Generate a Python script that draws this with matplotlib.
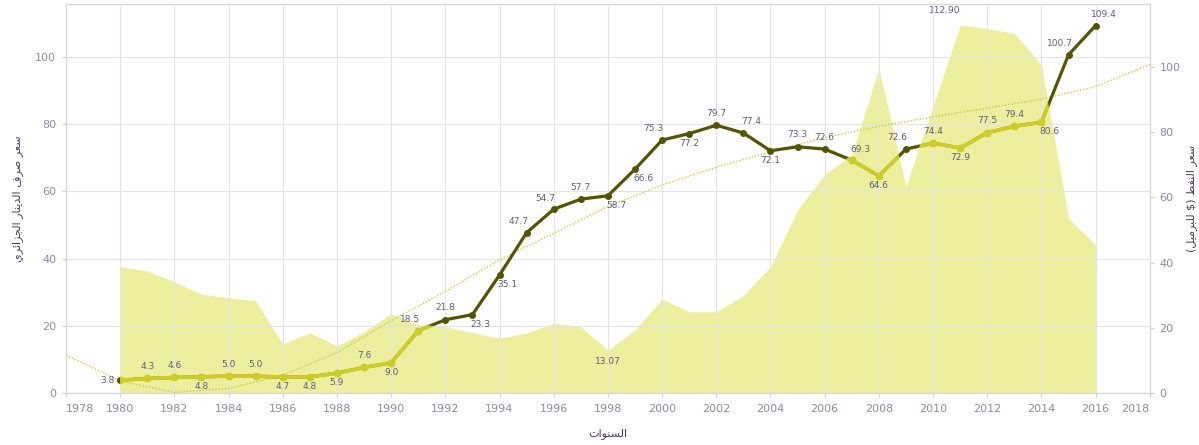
import matplotlib
matplotlib.use("Agg")
import matplotlib.pyplot as plt

# ---- data ----
years = list(range(1980, 2017))

# exchange rate (left axis)
dinar = [3.8, 4.3, 4.6, 4.8, 5.0, 5.0, 4.7, 4.8, 5.9, 7.6,
         9.0, 18.5, 21.8, 23.3, 35.1, 47.7, 54.7, 57.7, 58.7, 66.6,
         75.3, 77.2, 79.7, 77.4, 72.1, 73.3, 72.6, 69.3, 64.6, 72.6,
         74.4, 72.9, 77.5, 79.4, 80.6, 100.7, 109.4]

# oil price (right axis)
oil = [38.7, 37.4, 34.1, 30.3, 29.2, 28.3, 15.0, 18.5, 14.4, 18.8,
       24.4, 20.9, 20.3, 18.5, 16.8, 18.4, 21.4, 20.3, 13.07, 19.3,
       28.8, 24.9, 24.9, 29.9, 38.7, 56.1, 67.0, 73.0, 99.6, 63.3,
       88.0, 112.90, 111.8, 110.3, 100.6, 53.6, 45.4]

# dotted trend of the exchange rate, every two years
trend_years = list(range(1978, 2019, 2))
trend = [11.3, 3.6, 0.2, 1.3, 5.3, 12.0, 21.5, 30.2, 39.6, 47.5, 55.5,
         61.9, 67.2, 71.8, 76.0, 79.4, 82.2, 84.8, 87.5, 91.2, 97.8]

xticks = list(range(1978, 2019, 2))
yticks = [0, 20, 40, 60, 80, 100]

# where each dinar label sits relative to its point
label_pos = ["l", "a", "a", "b", "a", "a", "b", "b", "b", "a",
             "b", "al", "a", "br", "br", "al", "al", "a", "br", "br",
             "al", "b", "a", "ar", "b", "a", "a", "ar", "b", "al",
             "a", "b", "a", "a", "br", "al", "ar"]
offsets = {"a": (0, 8.5), "b": (0, -7), "al": (-6, 8), "ar": (6, 8),
           "br": (6, -7), "l": (-4, 0)}

# arabic shaping (presentation forms: isolated, final, initial, medial)
FORMS = {
    "ا": ("\uFE8D", "\uFE8E", None, None),
    "ب": ("\uFE8F", "\uFE90", "\uFE91", "\uFE92"),
    "ت": ("\uFE95", "\uFE96", "\uFE97", "\uFE98"),
    "ج": ("\uFE9D", "\uFE9E", "\uFE9F", "\uFEA0"),
    "د": ("\uFEA9", "\uFEAA", None, None),
    "ر": ("\uFEAD", "\uFEAE", None, None),
    "ز": ("\uFEAF", "\uFEB0", None, None),
    "س": ("\uFEB1", "\uFEB2", "\uFEB3", "\uFEB4"),
    "ص": ("\uFEB9", "\uFEBA", "\uFEBB", "\uFEBC"),
    "ط": ("\uFEC1", "\uFEC2", "\uFEC3", "\uFEC4"),
    "ع": ("\uFEC9", "\uFECA", "\uFECB", "\uFECC"),
    "ف": ("\uFED1", "\uFED2", "\uFED3", "\uFED4"),
    "ل": ("\uFEDD", "\uFEDE", "\uFEDF", "\uFEE0"),
    "م": ("\uFEE1", "\uFEE2", "\uFEE3", "\uFEE4"),
    "ن": ("\uFEE5", "\uFEE6", "\uFEE7", "\uFEE8"),
    "و": ("\uFEED", "\uFEEE", None, None),
    "ي": ("\uFEF1", "\uFEF2", "\uFEF3", "\uFEF4"),
    "ئ": ("\uFE89", "\uFE8A", "\uFE8B", "\uFE8C"),
}


def ar(s):
    out = []
    for i, ch in enumerate(s):
        if ch not in FORMS:
            out.append(ch)
            continue
        f = FORMS[ch]
        prev = s[i - 1] if i > 0 else ""
        nxt = s[i + 1] if i + 1 < len(s) else ""
        jp = prev in FORMS and FORMS[prev][2] is not None
        jn = nxt in FORMS and f[2] is not None
        if jp and jn:
            out.append(f[3])
        elif jp:
            out.append(f[1])
        elif jn:
            out.append(f[2])
        else:
            out.append(f[0])
    vis = "".join(reversed(out))
    return vis.translate(str.maketrans("()", ")("))


dark = "#545400"
light = "#cdcd28"
area_col = "#eeef9e"
grid_col = "#e4e4e4"
tick_col = "#8b8ba3"
lab_col = "#5d5d7a"
title_col = "#4a3d5c"

plt.rcParams["font.family"] = ["DejaVu Sans"]

fig = plt.figure(figsize=(11.99, 4.45), dpi=100)
ax = fig.add_axes([0.055, 0.117, 0.904, 0.874])
ax2 = ax.twinx()
ax.set_zorder(ax2.get_zorder() + 1)
ax.patch.set_visible(False)

# oil area on the right axis
fill = ax2.fill_between(years, oil, 0, color=area_col, linewidth=0)
ax2.set_ylim(0, 119.3)
ax2.set_yticks(yticks)

# exchange rate line, dark everywhere, lighter where it lies over the area
ax.plot(years, dinar, color=dark, lw=2.3, marker="o", ms=4, zorder=4)
over, = ax.plot(years, dinar, color=light, lw=2.7, marker="o", ms=4.6,
                mec=light, zorder=5)
over.set_clip_path(fill.get_paths()[0], ax2.transData)

# trend line
ax.plot(trend_years, trend, color="#c6cc44", lw=1.0, ls=(0, (1, 1.3)),
        zorder=3)

for x, v, p in zip(years, dinar, label_pos):
    dx, dy = offsets[p]
    ax.annotate(f"{v:.1f}", (x, v), xytext=(dx, dy), textcoords="offset points",
                ha="right" if p == "l" else "center", va="center",
                fontsize=6.5, color=lab_col, zorder=6)

# labels on the oil extremes
i_min = oil.index(min(oil))
i_max = oil.index(max(oil))
ax2.annotate(f"{oil[i_min]:.2f}", (years[i_min], oil[i_min]), xytext=(0, -8),
             textcoords="offset points", ha="center", va="center",
             fontsize=6.5, color=lab_col)
ax2.annotate(f"{oil[i_max]:.2f}", (years[i_max], oil[i_max]), xytext=(-11, 10),
             textcoords="offset points", ha="center", va="center",
             fontsize=6.5, color=lab_col)

ax.set_xlim(1978, 2018)
ax.set_ylim(0, 115.8)
ax.set_xticks(xticks)
ax.set_yticks(yticks)
tl = ax.get_xticklabels()
tl[0].set_ha("left")
tl[-1].set_ha("right")

ax.grid(True, color=grid_col, lw=0.8)
ax.set_axisbelow(True)

for a in (ax, ax2):
    for s in a.spines.values():
        s.set_color("#d6d6d6")
        s.set_linewidth(0.8)
    a.tick_params(colors="#cfcfcf", labelcolor=tick_col, labelsize=8,
                  length=3, width=0.8)
ax.tick_params(axis="x", pad=5)
ax.tick_params(axis="y", pad=4)
ax2.tick_params(axis="y", pad=4)

ax.set_xlabel(ar("السنوات"), fontsize=8, color=title_col, labelpad=10)
ax.set_ylabel(ar("سعر صرف الدينار الجزائري"), fontsize=8, color=title_col,
              labelpad=9)
ax2.set_ylabel(ar("سعر النفط ($ للبرميل)"), fontsize=8, color=title_col,
               rotation=90, labelpad=4)

fig.savefig("out.png", dpi=100)
